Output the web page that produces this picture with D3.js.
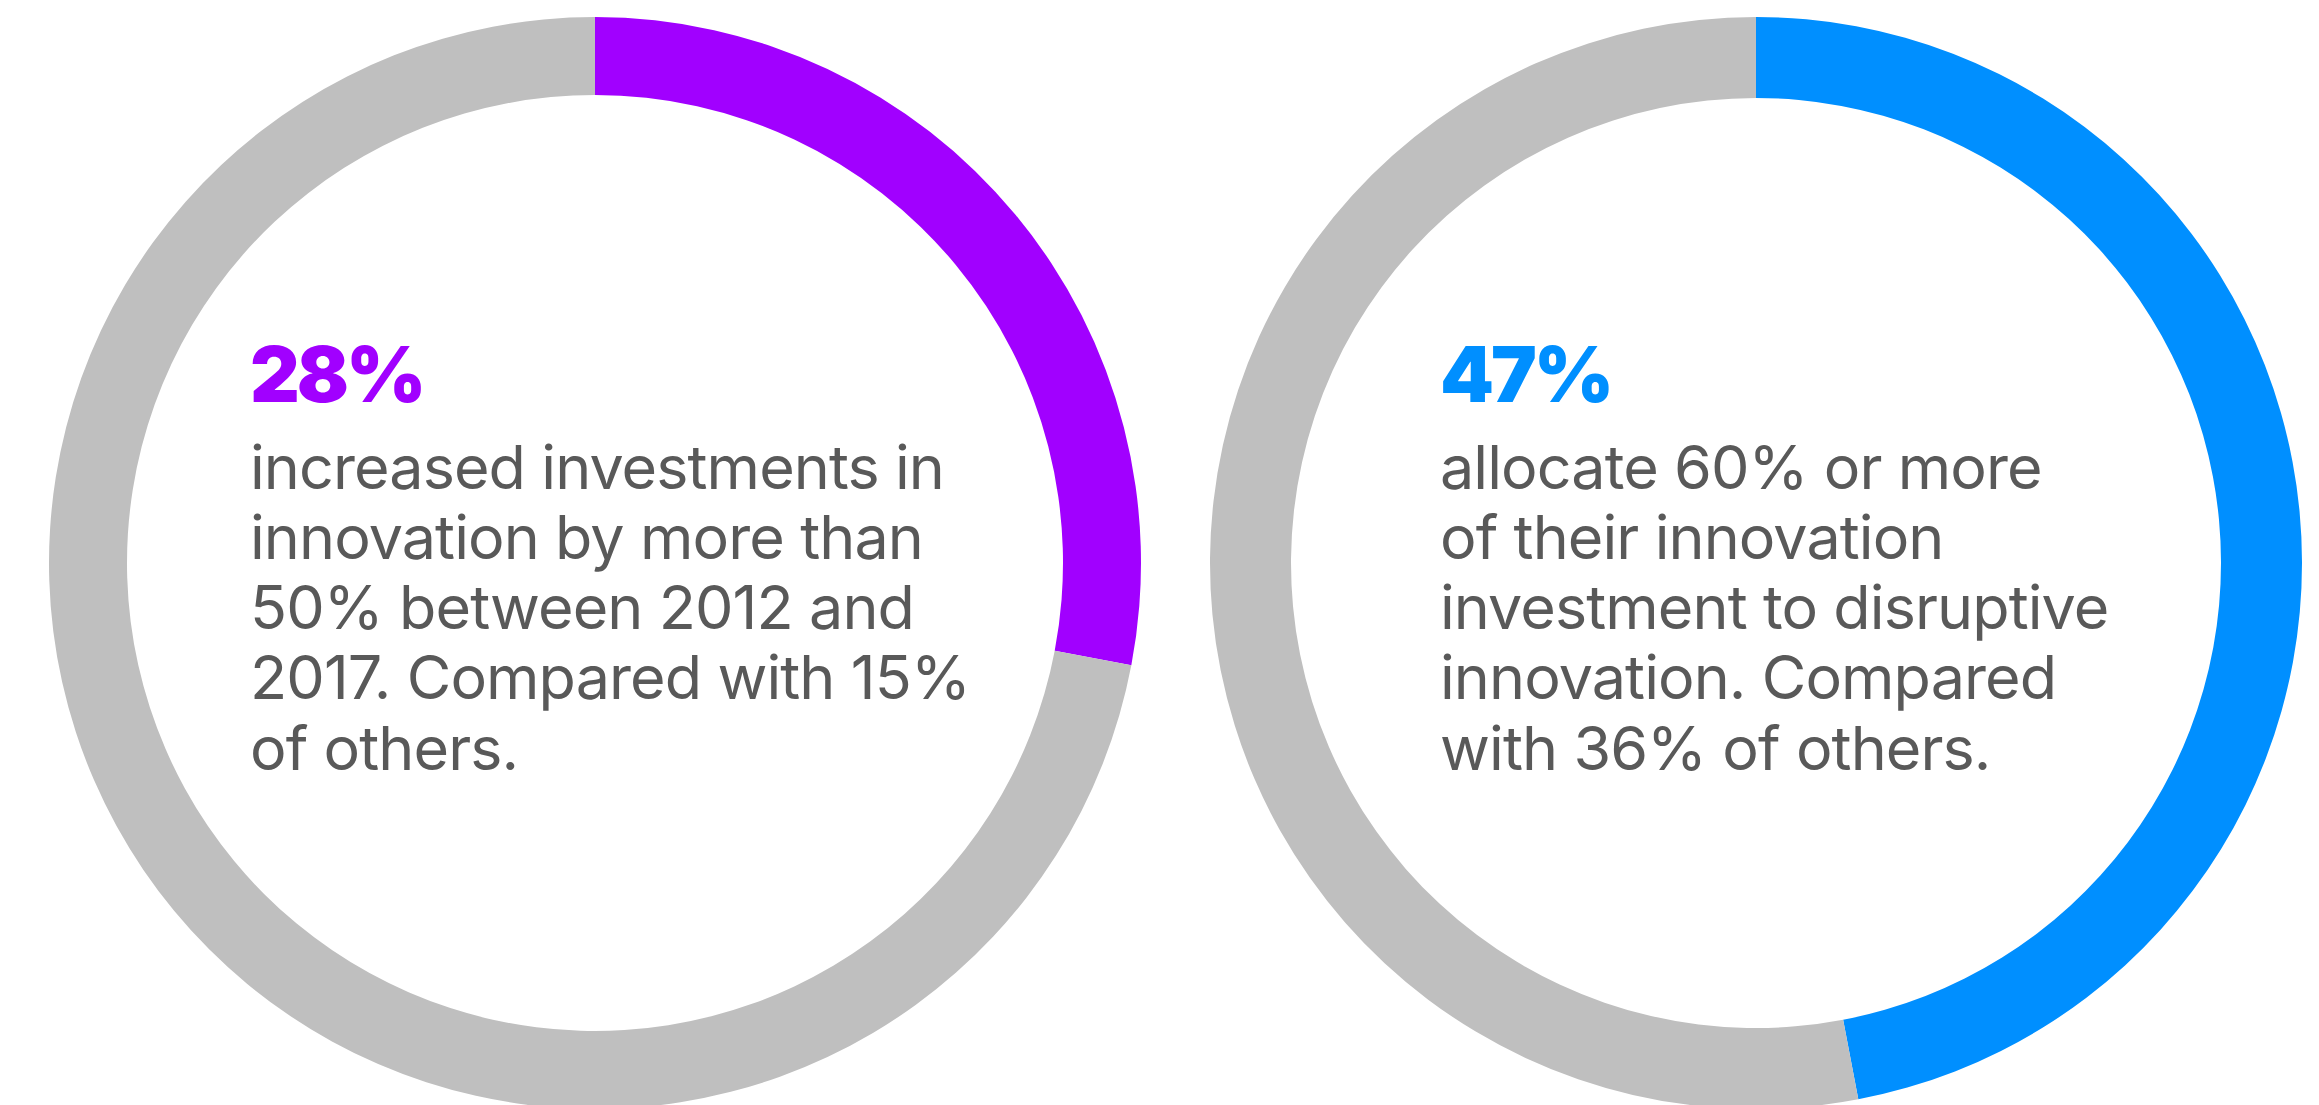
<!DOCTYPE html>
<html>
<head>
<meta charset="utf-8">
<script src="https://cdn.jsdelivr.net/npm/d3@7"></script>
<style>
  html, body { margin: 0; padding: 0; background: #ffffff; }
  svg { display: block; }
</style>
</head>
<body>
<svg id="chart" width="2319" height="1105"></svg>
<script>
// Share of respondents per ring (the remainder is drawn in grey)
const headlines = ["28%", "47%"];
const shares = [28, 47];
const ringColors = ["#A100FF", "#008FFF"];
const descriptions = [
  ["increased investments in",
   "innovation by more than",
   "50% between 2012 and",
   "2017. Compared with 15%",
   "of others."],
  ["allocate 60% or more",
   "of their innovation",
   "investment to disruptive",
   "innovation. Compared",
   "with 36% of others."]
];

const svg = d3.select("#chart");

// layout
const centers = [{x: 595, y: 563}, {x: 1756, y: 563}];
const textLeft = [250, 1440];
const outerR = 546;
const innerR = [468, 465];
const restColor = "#BFBFBF";
const textColor = "#595959";

const pie = d3.pie().sort(null).value(d => d.v).startAngle(0).endAngle(2 * Math.PI);

shares.forEach((s, i) => {
  const g = svg.append("g").attr("transform", `translate(${centers[i].x},${centers[i].y})`);
  const arc = d3.arc().innerRadius(innerR[i]).outerRadius(outerR);
  const slices = pie([{v: s, c: ringColors[i]}, {v: 100 - s, c: restColor}]);
  g.selectAll("path").data(slices).join("path")
    .attr("d", arc)
    .attr("fill", d => d.data.c);

  // headline figure
  svg.append("text")
    .attr("x", textLeft[i])
    .attr("y", 402)
    .attr("fill", ringColors[i])
    .attr("font-family", "Inter, Lato, sans-serif")
    .attr("font-weight", 900)
    .attr("font-size", 77)
    .attr("letter-spacing", -3)
    .text(headlines[i]);

  // description lines
  const t = svg.append("text")
    .attr("fill", textColor)
    .attr("font-family", "Inter, 'Open Sans', sans-serif")
    .attr("font-weight", 400)
    .attr("font-size", 61)
    .attr("letter-spacing", -0.9);
  descriptions[i].forEach((line, k) => {
    t.append("tspan")
      .attr("x", textLeft[i])
      .attr("y", 488.5 + k * 70.25)
      .text(line);
  });
});
</script>
</body>
</html>
